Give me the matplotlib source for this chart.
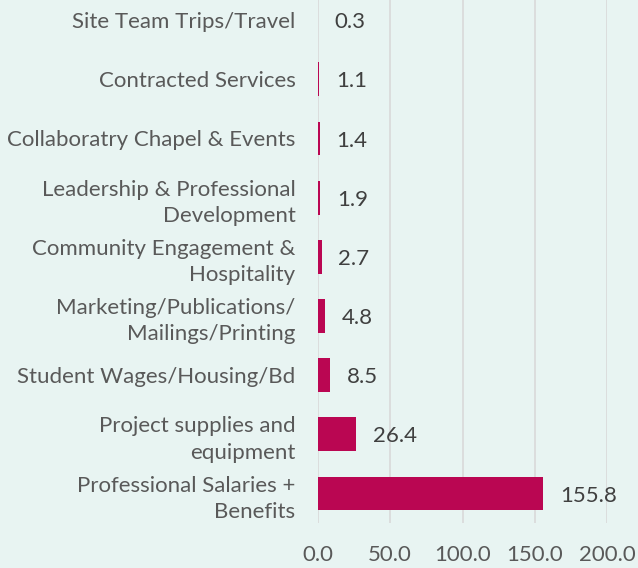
import matplotlib.pyplot as plt

# Budget categories (top to bottom as shown) and amounts
categories = [
    'Site Team Trips/Travel',
    'Contracted Services',
    'Collaboratry Chapel & Events',
    'Leadership & Professional\nDevelopment',
    'Community Engagement &\nHospitality',
    'Marketing/Publications/\nMailings/Printing',
    'Student Wages/Housing/Bd',
    'Project supplies and\nequipment',
    'Professional Salaries +\nBenefits',
]
values = [0.3, 1.1, 1.4, 1.9, 2.7, 4.8, 8.5, 26.4, 155.8]
x_ticks = [0, 50, 100, 150, 200]

bg = '#E8F4F2'
bar_color = '#BA0652'

plt.rcParams['font.family'] = ['Lato', 'DejaVu Sans']

fig = plt.figure(figsize=(6.38, 5.68), dpi=100, facecolor=bg)
ax = fig.add_axes([0.498, 0.079, 0.454, 0.921], facecolor=bg)

n = len(categories)
ypos = [n - 1 - i for i in range(n)]
ax.barh(ypos, values, height=0.57, color=bar_color, zorder=3)

for y, v in zip(ypos, values):
    ax.annotate(f'{v:.1f}', xy=(v, y), xytext=(12, -1.5), textcoords='offset points',
                va='center', ha='left', fontsize=16, color='#404040')

ax.set_xlim(0, 200)
ax.set_ylim(-0.5, 8.34)
ax.set_xticks(x_ticks)
ax.set_xticklabels([f'{t:.1f}' for t in x_ticks], fontsize=16, color='#595959')
ax.set_yticks(ypos)
ax.set_yticklabels(categories, fontsize=16, color='#595959', linespacing=1.4)
ax.tick_params(axis='both', length=0)
ax.tick_params(axis='x', pad=16)
ax.tick_params(axis='y', pad=16)
ax.grid(axis='x', color='#D9D9D9', linewidth=1.2, zorder=0)
for s in ax.spines.values():
    s.set_visible(False)

fig.savefig('out.png', dpi=100, facecolor=bg)
